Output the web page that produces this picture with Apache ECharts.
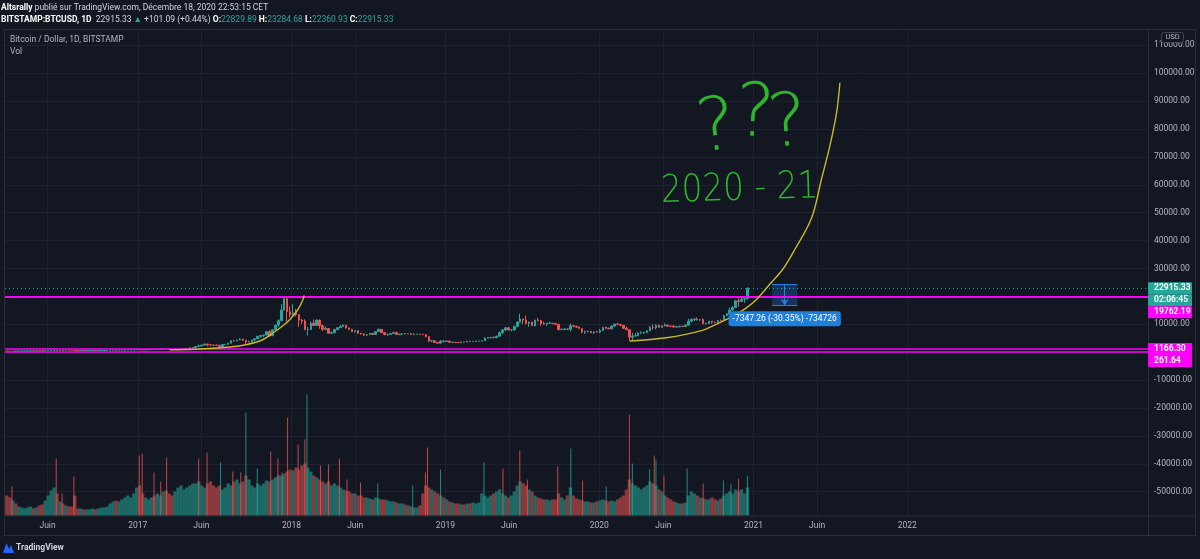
<!DOCTYPE html>
<html><head><meta charset="utf-8">
<script src="https://cdn.jsdelivr.net/npm/echarts@6/dist/echarts.min.js"></script>
<style>html,body{margin:0;padding:0;background:#131722;}#c{width:1200px;height:559px;}</style>
</head><body><div id="c"></div>
<script>
// ---------- DATA ----------
const weekStart = '2016-02-22';            // Monday of first weekly candle
// weekly candles: [open, close, low, high]
const candles2016 = [
 [438,433,415,445],[433,412,400,440],[412,414,405,420],[414,410,405,418],[410,417,405,420],[417,420,410,425],
 [420,421,415,425],[421,427,418,430],[427,458,425,462],[458,445,440,468],[445,460,440,462],[460,455,450,465],
 [455,442,436,460],[442,528,440,532],[528,575,520,585],[575,665,570,680],[665,765,660,780],[765,665,570,770],
 [665,665,620,705],[665,650,635,690],[650,665,645,680],[665,655,650,675],[655,625,620,665],[625,590,480,630],
 [590,570,565,600],[570,580,565,585],[580,572,565,590],[572,605,565,615],[605,608,600,630],[608,608,600,612],
 [608,602,595,612],[602,612,598,615],[612,617,606,620],[617,640,612,645],[640,655,630,660],[655,700,650,720],
 [700,710,680,745],[710,705,700,740],[705,730,700,750],[730,735,725,750],[735,765,730,770],[765,780,755,785],
 [780,790,770,795],[790,895,785,935],[895,998,890,1000]
];
const candles2017 = [
 [998,905,810,1150],[905,820,760,910],[820,920,810,930],[920,920,880,925],[920,1020,915,1040],
 [1020,1000,945,1075],[1000,1055,990,1060],[1055,1150,1050,1200],[1150,1270,1140,1290],
 [1270,1240,1115,1325],[1240,970,950,1250],[970,965,890,1120],[965,1120,960,1125],
 [1120,1180,1110,1200],[1180,1180,1165,1210],[1180,1245,1175,1250],[1245,1350,1240,1360],
 [1350,1550,1340,1620],[1550,1720,1545,1800],[1720,2050,1700,2100],[2050,2190,1960,2760],[2190,2550,2150,2580],
 [2550,2950,2500,2975],[2950,2600,2100,2980],[2600,2560,2510,2800],[2560,2540,2320,2600],
 [2540,2500,2450,2650],[2500,1920,1840,2550],[1920,2750,1880,2950],[2750,2850,2600,2900],[2850,3230,2650,3280],
 [3230,4070,3200,4200],[4070,4060,3800,4480],[4060,4380,3950,4400],[4380,4700,4300,4960],
 [4700,4300,4000,4800],[4300,3680,2970,4400],[3680,3780,3600,4120],[3780,4370,3700,4400],
 [4370,4780,4150,4800],[4780,5680,4750,5860],[5680,5970,5100,6180],[5970,6130,5400,6200],[6130,7370,6050,7500],
 [7370,5900,5500,7900],[5900,8000,5850,8050],[8000,9740,7990,9770],[9740,11300,9050,11800],
 [11300,15100,11100,17200],[15100,19200,15000,19650],[19200,14500,11000,19300],[14500,13400,12500,16500]
];
const candles2018 = [
 [13400,14100,12800,17200],[14100,13500,12800,15500],[13500,11500,9100,13500],[11500,11200,10200,12000],[11200,8100,7900,11800],
 [8100,8100,6000,9000],[8100,10400,8000,11000],[10400,9600,9300,11700],[9600,11500,9400,11700],
 [11500,9500,8400,11700],[9500,8200,7600,9900],[8200,8500,7900,9200],[8500,6800,6500,8500],
 [6800,7000,6500,7500],[7000,8100,6700,8400],[8100,8800,7900,9000],[8800,9200,8700,9800],[9200,9700,9050,9950],
 [9700,8700,8400,9800],[8700,8200,7950,8800],[8200,7350,7250,8400],[7350,7700,7050,7750],
 [7700,6750,6500,7800],[6750,6500,6300,6800],[6500,6150,5800,6800],[6150,6350,5800,6500],
 [6350,6750,6300,6850],[6750,6350,6100,6780],[6350,7400,6300,7600],[7400,8200,7400,8500],[8200,7000,6900,8200],
 [7000,6300,6100,7150],[6300,6400,5900,6600],[6400,6700,6300,6800],[6700,7000,6650,7400],
 [7000,6300,6150,7350],[6300,6500,6200,6550],[6500,6700,6200,6850],[6700,6600,6450,6800],
 [6600,6600,6550,6650],[6600,6300,6150,6700],[6300,6450,6300,6800],[6450,6450,6400,6500],[6450,6400,6300,6500],
 [6400,6350,6300,6550],[6350,5600,5300,6400],[5600,4000,3700,5600],[4000,4100,3600,4400],
 [4100,3500,3400,4200],[3500,3250,3150,3600],[3250,4000,3200,4350],[4000,3800,3550,4250],[3800,4000,3700,4100]
];
const candles2019 = [
 [4000,3550,3500,4100],[3550,3550,3500,3700],[3550,3500,3450,3650],[3500,3450,3350,3550],
 [3450,3650,3400,3700],[3650,3620,3550,3700],[3620,3850,3600,4100],[3850,3830,3700,3900],
 [3830,3870,3700,3950],[3870,3990,3820,4000],[3990,3990,3950,4080],[3990,4100,3950,4150],
 [4100,5050,4100,5350],[5050,5150,4950,5450],[5150,5300,5050,5350],[5300,5200,5100,5600],[5200,5750,5150,5900],
 [5750,7000,5700,7400],[7000,8000,6600,8300],[8000,8750,7500,8950],[8750,8000,7800,9050],
 [8000,8000,7500,8300],[8000,9300,7800,9300],[9300,10800,9000,11200],[10800,11900,10600,13800],
 [11900,11500,10100,12000],[11500,10300,10000,13200],[10300,10800,9100,11000],[10800,9500,9400,10600],[9500,11500,9200,11600],
 [11500,11400,11000,12300],[11400,10300,9500,11500],[10300,10100,9800,10900],[10100,10400,9400,10500],
 [10400,10400,10200,10900],[10400,10300,10000,10400],[10300,10000,9800,10300],[10000,8100,7800,10000],[8100,8200,7950,8500],
 [8200,8300,7850,8700],[8300,8200,7900,8400],[8200,9500,7400,10300],[9500,9300,8900,9500],
 [9300,9000,8700,9400],[9000,8500,8400,9100],[8500,7300,6800,8500],[7300,7400,6500,7800],
 [7400,7500,7100,7700],[7500,7000,6900,7500],[7000,7300,6550,7500],[7300,7200,7100,7650],[7200,7800,6850,8300]
];
const candles2020 = [
 [7800,8900,7750,9000],[8900,8650,8200,9200],[8650,8350,8300,8750],[8350,9350,8300,9500],
 [9350,10100,9100,10150],[10100,9900,9700,10500],[9900,9650,9300,10200],[9650,8550,8400,9700],
 [8550,8050,8000,9150],[8050,5400,3850,8150],[5400,5830,4400,6900],[5830,5900,5700,6850],[5900,6850,5900,7200],
 [6850,6950,6600,7450],[6950,7150,6500,7300],[7150,7700,6800,7750],[7700,8900,7600,9450],
 [8900,8750,8100,10000],[8750,9700,8200,9950],[9700,8900,8800,9900],[8900,9450,8650,9600],
 [9450,9750,9300,10400],[9750,9350,9000,10000],[9350,9300,9250,9600],[9300,9000,8950,9750],[9000,9050,9000,9300],
 [9050,9300,9000,9450],[9300,9200,9100,9300],[9200,9700,9150,10100],[9700,11100,9700,12000],
 [11100,11750,10700,12100],[11750,11900,11100,12200],[11900,11650,11300,12450],[11650,11700,11100,11800],[11700,10300,10000,12100],
 [10300,10300,9900,10600],[10300,11100,10200,11200],[11100,10750,10200,11100],[10750,10650,10350,10950],
 [10650,11400,10500,11500],[11400,11350,11200,11700],[11350,13100,11350,13350],[13100,13800,12900,14000],
 [13800,15100,13200,15950],[15100,16000,14800,16500],[16000,18400,15800,18800],[18400,18200,16300,19400],[18200,19000,18100,19900],
 [19000,19200,17600,19400],[19200,22915.33,19000,23284.68]
];
// weekly volume level (relative units)
const volumeWeekly = [
 20,18,15,12, 9,8,7,8,9,7,8,10,11, 15,20,25,28,22, 14,12,10,9,9, 20,
 7,7,6,6,6,7,6,7,8,8,9, 12,14,15,14,16,18,20,18,22, 28,30,22,18,16,
 18,20,22,20,24,25,22,20,24,28,30,26,28,30,32,
 32,34,30,28,32,34,30,28,30,26,28,32,30,34,36,32,34,
 40,36,30,28,32, 30,32,35,34,36,38,40,
 40,42,44,46,45,48,46,50,52,48,44,40,
 38,36,34,32,34,30,32,30,28,26,25,
 24,22,22,20,20,18,18,17,16,18,
 17,16,16,15,14,14,13,12,12,11,10,9,8,8,
 10,22,30,28, 26,24,22,20,18,16,14,
 13,12,12,11,11,12,12,13,12,13,
 22,20,18,20,22,24, 26,22,20,18,20,24,30, 34,32,30,26,24,
 20,18,17,16,16,15,16,16,22,18, 16,20,28,
 20,17,16,15,14,14,13,13,14,15,16,15,14,15,14,
 16,18,20, 26, 36,32,30,28,26,28,30,34,32, 30,26,24,20,18,
 16,14,13,12,12,13,20,24,
 22,20,18,17,16,16,18,16,15,17,20,
 22,24,22,26,24,26,22,28
];
// single-day volume spikes: [date, volume, 'u' up / 'd' down]
const volumeSpikes = [
 ['2016-03-08',29,'d'],['2016-06-21',57,'d'],['2016-07-05',22,'d'],['2016-08-02',39,'d'],
 ['2017-01-04',60,'d'],['2017-01-11',62,'d'],['2017-02-08',43,'d'],['2017-02-24',34,'d'],['2017-03-10',58,'d'],
 ['2017-05-25',57,'d'],['2017-06-14',63,'d'],['2017-07-16',53,'u'],['2017-08-14',44,'d'],['2017-09-02',43,'d'],
 ['2017-09-14',103,'u'],['2017-10-11',47,'u'],['2017-11-12',64,'d'],['2017-11-29',57,'d'],['2017-12-09',43,'d'],
 ['2017-12-22',98,'d'],['2018-01-16',71,'d'],['2018-02-01',76,'d'],['2018-02-06',121,'u'],['2018-03-10',50,'d'],
 ['2018-03-29',51,'d'],['2018-04-24',57,'d'],['2018-05-12',36,'d'],['2018-06-13',33,'d'],['2018-07-24',32,'u'],
 ['2018-10-15',30,'u'],['2018-11-14',43,'d'],['2018-11-19',68,'d'],['2018-12-20',46,'u'],['2019-04-02',53,'u'],
 ['2019-05-17',47,'d'],['2019-06-26',65,'d'],['2019-07-14',36,'d'],['2019-09-24',49,'d'],['2019-10-25',67,'u'],
 ['2019-11-22',35,'d'],['2020-01-17',29,'u'],['2020-03-12',101,'d'],['2020-03-19',52,'u'],['2020-04-29',46,'u'],
 ['2020-05-10',60,'d'],['2020-05-14',56,'u'],['2020-06-02',40,'d'],['2020-07-27',47,'u'],['2020-09-03',32,'d'],
 ['2020-10-21',35,'u'],['2020-11-08',32,'u'],['2020-11-26',37,'d'],['2020-12-17',40,'u']
];
const xMinDate = '2016-02-21', xMaxDate = '2023-07-26';
const xTickDates  = ['2016-06-01','2017-01-01','2017-06-01','2018-01-01','2018-06-01','2019-01-01','2019-06-01','2020-01-01','2020-06-01','2021-01-01','2021-06-01','2022-01-01'];
const xTickLabels = ['Juin','2017','Juin','2018','Juin','2019','Juin','2020','Juin','2021','Juin','2022'];
const yMin = -58530, yMax = 115480;
const yTickValues  = [-50000,-40000,-30000,-20000,-10000,0,10000,20000,30000,40000,50000,60000,70000,80000,90000,100000,110000];
const yLabelValues = [-50000,-40000,-30000,-20000,-10000,10000,30000,40000,50000,60000,70000,80000,90000,100000,110000];
const levelLines = [19762.19, 1166.30, 261.64];
const lastPrice = 22915.33;
const countdown = '02:06:45';
const curve2017 = [['2017-03-18',860],['2017-05-29',1150],['2017-08-08',1860],['2017-09-17',2760],['2017-10-23',4370],
 ['2017-11-18',6880],['2017-12-12',9570],['2017-12-28',11720],['2018-01-16',15300],['2018-01-26',18170],['2018-01-31',20320]];
const curve2020 = [['2020-03-14',4010],['2020-06-08',5160],['2020-08-26',7530],['2020-10-12',10540],['2020-11-13',12900],
 ['2020-12-15',15910],['2021-01-08',18890],['2021-02-08',24270],['2021-03-11',29640],['2021-04-09',36810],
 ['2021-05-19',48170],['2021-06-11',61900],['2021-07-01',73840],['2021-07-17',85810],['2021-07-25',96560]];
const rangeDates = ['2021-02-14','2021-04-15'];
const rangePrices = [24208.5, 16861.2];
const rangeText = '-7347.26 (-30.35%) -734726';
const handText = [ // [text, date, price, fontSize, rotation, scaleX]
 ['?','2020-10-05',79500,74,0.12,1],['?','2021-01-04',84500,74,-0.05,1],['?','2021-03-23',81000,74,0.08,1],
 ['2020 - 21','2020-11-29',58200,38,0.03,0.86]
];

// ---------- BUILD ----------
const DAY = 86400000;
const T = d => Date.parse(d);
const t0 = T(weekStart);
const candles = candles2016.concat(candles2017, candles2018, candles2019, candles2020);
const candleData = candles.map((c,i)=>[t0+(7*i+3.5)*DAY, c[0], c[1], c[2], c[3]]);
const UP='#26a69a', DOWN='#ef5350', UPV='#1d6965', DOWNV='#8a3a3d';
const volData = volumeWeekly.slice(0, candles.length).map((v,i)=>({value:[candleData[i][0], v],
  itemStyle:{color: candles[i][1]>=candles[i][0]?UPV:DOWNV}}));
const spikeData = volumeSpikes.map(s=>({value:[T(s[0])+DAY/2, s[1]], itemStyle:{color: s[2]==='u'?'rgba(38,166,154,0.8)':'rgba(239,83,80,0.8)'}}));
const xTickTs = xTickDates.map(T);
const xLabelMap = {}; xTickTs.forEach((t,i)=>xLabelMap[t]=xTickLabels[i]);
const xMin = T(xMinDate), xMax = T(xMaxDate);
const FONT = 'Roboto';
const AX = '#b2b5be', GRIDC = '#1e2230';

const chart = echarts.init(document.getElementById('c'), null, {renderer:'canvas', width:1200, height:559});
const gridBox = {left:5, right:52, bottom:43.5};
const option = {
  backgroundColor:'#131722',
  animation:false,
  grid:[
    Object.assign({top:30}, gridBox),
    Object.assign({top:390}, gridBox),
    Object.assign({top:390}, gridBox)
  ],
  xAxis:[
    {gridIndex:0, type:'value', min:xMin, max:xMax, axisLine:{show:false},
     axisTick:{show:false, customValues:xTickTs},
     axisLabel:{customValues:xTickTs, formatter:v=>xLabelMap[v]||'', color:AX, fontSize:8.5, fontFamily:FONT, margin:6},
     splitLine:{show:true, lineStyle:{color:GRIDC, width:1}}},
    {gridIndex:1, type:'value', min:xMin, max:xMax, show:false},
    {gridIndex:2, type:'value', min:xMin, max:xMax, show:false}
  ],
  yAxis:[
    {gridIndex:0, type:'value', position:'right', min:yMin, max:yMax, axisLine:{show:false},
     axisTick:{show:false, customValues:yTickValues},
     axisLabel:{customValues:yLabelValues, formatter:v=>v.toFixed(2), color:AX, fontSize:8.5, fontFamily:FONT, margin:6},
     splitLine:{show:true, lineStyle:{color:GRIDC, width:1}}},
    {gridIndex:1, type:'value', min:0, max:125.5, show:false},
    {gridIndex:2, type:'value', min:0, max:125.5, show:false}
  ],
  series:[
    {type:'bar', xAxisIndex:1, yAxisIndex:1, data:volData, barWidth:3.4, silent:true, z:1},
    {type:'bar', xAxisIndex:2, yAxisIndex:2, data:spikeData, barWidth:1, silent:true, z:1},
    {type:'candlestick', xAxisIndex:0, yAxisIndex:0, data:candleData, encode:{x:0, y:[1,2,3,4]},
     barWidth:2, silent:true, z:3,
     itemStyle:{color:UP, color0:DOWN, borderColor:UP, borderColor0:DOWN, borderWidth:1},
     markLine:{silent:true, symbol:['none','none'], label:{show:false}, animation:false, z:5,
       data:[
         {yAxis:levelLines[0], lineStyle:{color:'#ff00ff', width:2, type:'solid'}},
         {yAxis:levelLines[1], lineStyle:{color:'#ff00ff', width:1.5, type:'solid'}},
         {yAxis:levelLines[2], lineStyle:{color:'#ff00ff', width:1.5, type:'solid'}},
         {yAxis:lastPrice, lineStyle:{color:'#26a69a', width:1, type:[1,3], opacity:0.9}}
       ]}},
    {type:'line', xAxisIndex:0, yAxisIndex:0, data:curve2017.map(p=>[T(p[0]),p[1]]), smooth:0.35,
     symbol:'none', silent:true, z:6, lineStyle:{color:'#c8b82a', width:1.4}},
    {type:'line', xAxisIndex:0, yAxisIndex:0, data:curve2020.map(p=>[T(p[0]),p[1]]), smooth:0.35,
     symbol:'none', silent:true, z:6, lineStyle:{color:'#c8b82a', width:1.4},
     markArea:{silent:true, itemStyle:{color:'rgba(30,110,220,0.33)'},
       data:[[{coord:[T(rangeDates[0]), rangePrices[0]]},{coord:[T(rangeDates[1]), rangePrices[1]]}]]},
     markLine:{silent:true, symbol:['none','none'], label:{show:false}, animation:false,
       lineStyle:{color:'#2a7de1', width:1, type:'solid'},
       data:[
         [{coord:[T(rangeDates[0]), rangePrices[0]]},{coord:[T(rangeDates[1]), rangePrices[0]]}],
         [{coord:[T(rangeDates[0]), rangePrices[1]]},{coord:[T(rangeDates[1]), rangePrices[1]]}],
         [{coord:[(T(rangeDates[0])+T(rangeDates[1]))/2, rangePrices[0]], symbol:'none'},
          {coord:[(T(rangeDates[0])+T(rangeDates[1]))/2, rangePrices[1]], symbol:'arrow', symbolSize:6}]
       ]}}
  ]
};
chart.setOption(option);

// ---------- overlays (texts, tags, frame) ----------
const px = (t, v) => chart.convertToPixel({gridIndex:0}, [t, v]);
const g = [];
const FR = '#2a2e39';
g.push({type:'rect', shape:{x:4.5, y:29.5, width:1191, height:506}, style:{fill:null, stroke:FR, lineWidth:1}, silent:true, z:50});
g.push({type:'line', shape:{x1:1148.5, y1:29.5, x2:1148.5, y2:535.5}, style:{stroke:FR, lineWidth:1}, silent:true, z:50});
g.push({type:'line', shape:{x1:4.5, y1:516, x2:1195.5, y2:516}, style:{stroke:FR, lineWidth:1}, silent:true, z:50});
// header
g.push({type:'text', x:1, y:3.5, silent:true, z:60, style:{
  text:'{b|Altsrally} publié sur TradingView.com, Décembre 18, 2020 22:53:15 CET',
  fill:'#d1d4dc', font:'8.5px Roboto', rich:{b:{fontWeight:'bold', fill:'#ffffff', fontSize:8.5, fontFamily:FONT}}}});
g.push({type:'text', x:1, y:15, silent:true, z:60, style:{
  text:'{b|BITSTAMP:BTCUSD, 1D}  22915.33 {g|▲} +101.09 (+0.44%) {b|O:}{g|22829.89} {b|H:}{g|23284.68} {b|L:}{g|22360.93} {b|C:}{g|22915.33}',
  fill:'#d1d4dc', font:'8.5px Roboto',
  rich:{b:{fontWeight:'bold', fill:'#ffffff', fontSize:8.5, fontFamily:FONT}, g:{fill:'#26a69a', fontSize:8.5, fontFamily:FONT}}}});
// pane legend
g.push({type:'text', x:10, y:35.5, silent:true, z:60, style:{text:'Bitcoin / Dollar, 1D, BITSTAMP', fill:AX, font:'8.5px Roboto'}});
g.push({type:'text', x:10, y:47, silent:true, z:60, style:{text:'Vol', fill:AX, font:'8.5px Roboto'}});
// USD badge
g.push({type:'rect', shape:{x:1161.5, y:32.5, width:22, height:10, r:2}, style:{fill:'#131722', stroke:'#434651', lineWidth:1}, silent:true, z:61});
g.push({type:'text', x:1172.5, y:37.5, silent:true, z:62, style:{text:'USD', fill:AX, font:'7.5px Roboto', align:'center', verticalAlign:'middle'}});
// right tags (stacked like the price scale does)
const tags = [
  {v:lastPrice, text:lastPrice.toFixed(2), bg:'#26a69a'},
  {follow:true, text:countdown, bg:'#26a69a'},
  {v:levelLines[0], text:levelLines[0].toFixed(2), bg:'#ff00ff'},
  {v:levelLines[1], text:levelLines[1].toFixed(2), bg:'#ff00ff'},
  {v:levelLines[2], text:levelLines[2].toFixed(2), bg:'#ff00ff'}
];
const H = 12; let prevBottom = -1e9;
tags.forEach(tag=>{
  let top;
  if (tag.follow) top = prevBottom;
  else top = Math.max(px(xMin, tag.v)[1] - H/2, prevBottom);
  prevBottom = top + H;
  g.push({type:'rect', shape:{x:1148, y:top, width:44, height:H, r:1}, style:{fill:tag.bg}, silent:true, z:63});
  g.push({type:'text', x:1154, y:top+H/2, silent:true, z:64, style:{text:tag.text, fill:'#ffffff', font:'bold 8.5px Roboto', verticalAlign:'middle'}});
});
// range label
const rMid = (T(rangeDates[0])+T(rangeDates[1]))/2;
const rb = px(rMid, rangePrices[1]);
g.push({type:'text', x:rb[0], y:rb[1]+6, silent:true, z:65, style:{text:rangeText, fill:'#ffffff', font:'8.5px Roboto',
  align:'center', verticalAlign:'top', backgroundColor:'#1e80dc', padding:[3,4,3,4], borderRadius:3}});
// handwritten annotation
handText.forEach(h=>{
  const p = px(T(h[1]), h[2]);
  g.push({type:'text', x:p[0], y:p[1], rotation:h[4], scaleX:h[5], silent:true, z:40, style:{text:h[0], fill:'#2db52d',
    font:'200 '+h[3]+'px "DejaVu Sans"', align:'center', verticalAlign:'middle'}});
});
// TradingView logo
g.push({type:'polygon', shape:{points:[[3,553],[6.5,543],[9,549],[11,545],[14,553]]}, style:{fill:'#2962ff'}, silent:true, z:60});
g.push({type:'text', x:16, y:548, silent:true, z:60, style:{text:'TradingView', fill:'#d1d4dc', font:'bold 8.5px Roboto', verticalAlign:'middle'}});

chart.setOption({graphic:g});
</script></body></html>
